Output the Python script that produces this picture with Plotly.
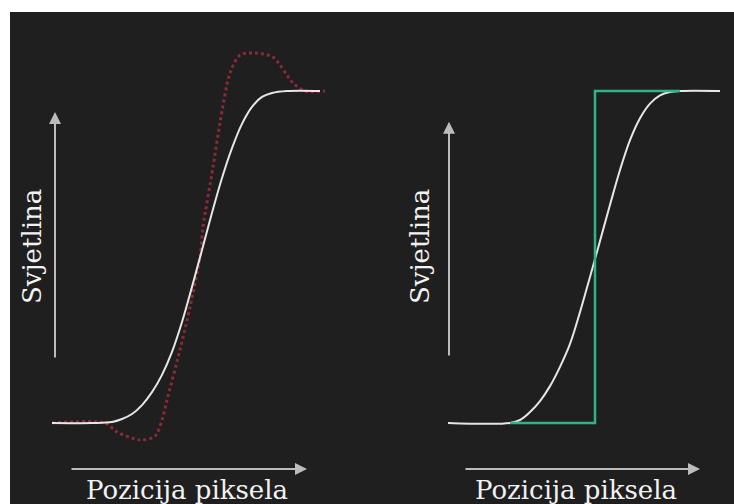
import plotly.graph_objects as go

# ---- data (position in pixel-steps, brightness 0..1) ----
left_pos = [0, 4, 6, 7, 8, 9, 10, 11, 12, 13, 14, 15, 16, 17, 18, 19, 20, 21, 22, 23.5, 26.8]
left_soft = [0, 0, 0.003, 0.012, 0.027, 0.054, 0.093, 0.145, 0.214, 0.304, 0.41, 0.521,
             0.633, 0.738, 0.828, 0.901, 0.952, 0.982, 0.994, 1.0, 1.0]

sharp_pos = [0, 5.3, 6.5, 8.8, 10.3, 11.0, 11.5, 12.8, 13.8, 14.8, 15.1, 16.1, 16.8, 17.8,
             18.8, 20.3, 22.1, 24.1, 25.3, 27.3]
sharp_val = [0, 0, -0.027, -0.051, -0.04, 0.009, 0.069, 0.22, 0.349, 0.5, 0.59, 0.771, 0.904,
             1.054, 1.108, 1.114, 1.102, 1.024, 1.0, 1.0]

right_pos = [0, 6.2, 7.2, 8.2, 9.2, 10.2, 11.2, 12.2, 13.2, 14.2, 15.2, 16.2, 17.2, 18.2,
             19.2, 20.2, 21.2, 22.2, 23.2, 27.2]
right_soft = [0, 0, 0.009, 0.033, 0.066, 0.111, 0.169, 0.238, 0.334, 0.44, 0.548, 0.657,
              0.762, 0.852, 0.918, 0.962, 0.987, 0.997, 1.0, 1.0]

step_pos = [6.2, 14.7, 14.7, 23.2]
step_val = [0, 0, 1, 1]

axis_title_y = "Svjetlina"
axis_title_x = "Pozicija piksela"

BG = "#1f1f1f"
WHITE = "#e6e6e6"
RED = "#8a2a38"
GREEN = "#2db586"
ARROW = "#bcbcbc"

fig = go.Figure()

fig.add_trace(go.Scatter(x=sharp_pos, y=sharp_val, mode="lines", xaxis="x", yaxis="y",
                         line=dict(color=RED, width=3, dash="dot", shape="spline", smoothing=0.8),
                         hoverinfo="skip"))
fig.add_trace(go.Scatter(x=left_pos, y=left_soft, mode="lines", xaxis="x", yaxis="y",
                         line=dict(color=WHITE, width=2, shape="spline", smoothing=1.0),
                         hoverinfo="skip"))
fig.add_trace(go.Scatter(x=right_pos, y=right_soft, mode="lines", xaxis="x2", yaxis="y2",
                         line=dict(color=WHITE, width=2, shape="spline", smoothing=1.0),
                         hoverinfo="skip"))
fig.add_trace(go.Scatter(x=step_pos, y=step_val, mode="lines", xaxis="x2", yaxis="y2",
                         line=dict(color=GREEN, width=2.5),
                         hoverinfo="skip"))

ax_common = dict(visible=False, showgrid=False, zeroline=False, fixedrange=True)
fig.update_layout(
    width=734, height=504,
    margin=dict(l=0, r=0, t=0, b=0),
    paper_bgcolor="white",
    plot_bgcolor="rgba(0,0,0,0)",
    showlegend=False,
    xaxis=dict(domain=[0, 0.5], range=[-5.2, 31.5], **ax_common),
    yaxis=dict(domain=[0, 1], range=[-0.244, 1.274], **ax_common),
    xaxis2=dict(domain=[0.5, 1], range=[-8.1, 28.6], **ax_common),
    yaxis2=dict(domain=[0, 1], range=[-0.244, 1.274], anchor="x2", **ax_common),
    shapes=[dict(type="rect", xref="paper", yref="paper",
                 x0=10 / 734, x1=1, y0=0, y1=1 - 12 / 504,
                 fillcolor=BG, line=dict(width=0), layer="below")],
)

font = dict(family="DejaVu Serif, Liberation Serif, serif", color="#f2f2f2")

annotations = []
for xr, yr, hx0, hx1, vx, vy0, vy1, lx, tx in [
    ("x", "y", 1.8, 25.5, 0.3, 0.193, 0.937, -2.0, 13.5),
    ("x2", "y2", 1.6, 25.2, 0.1, 0.199, 0.907, -2.8, 12.8),
]:
    annotations.append(dict(xref=xr, yref=yr, axref=xr, ayref=yr,
                            x=hx1, y=-0.1386, ax=hx0, ay=-0.1386, text="",
                            showarrow=True, arrowhead=2, arrowsize=1.2, arrowwidth=2,
                            arrowcolor=ARROW))
    annotations.append(dict(xref=xr, yref=yr, axref=xr, ayref=yr,
                            x=vx, y=vy1, ax=vx, ay=vy0, text="",
                            showarrow=True, arrowhead=2, arrowsize=1.2, arrowwidth=2,
                            arrowcolor=ARROW))
    annotations.append(dict(xref=xr, yref=yr, x=lx, y=0.53, text=axis_title_y,
                            textangle=-90, showarrow=False,
                            font=dict(size=26, **font), xanchor="center", yanchor="middle"))
    annotations.append(dict(xref=xr, yref=yr, x=tx, y=-0.203, text=axis_title_x,
                            showarrow=False,
                            font=dict(size=26, **font), xanchor="center", yanchor="middle"))

fig.update_layout(annotations=annotations)

fig.write_html("out.html", config={"displayModeBar": False},
               post_script="document.body.style.margin='0';document.body.style.overflow='hidden';")
